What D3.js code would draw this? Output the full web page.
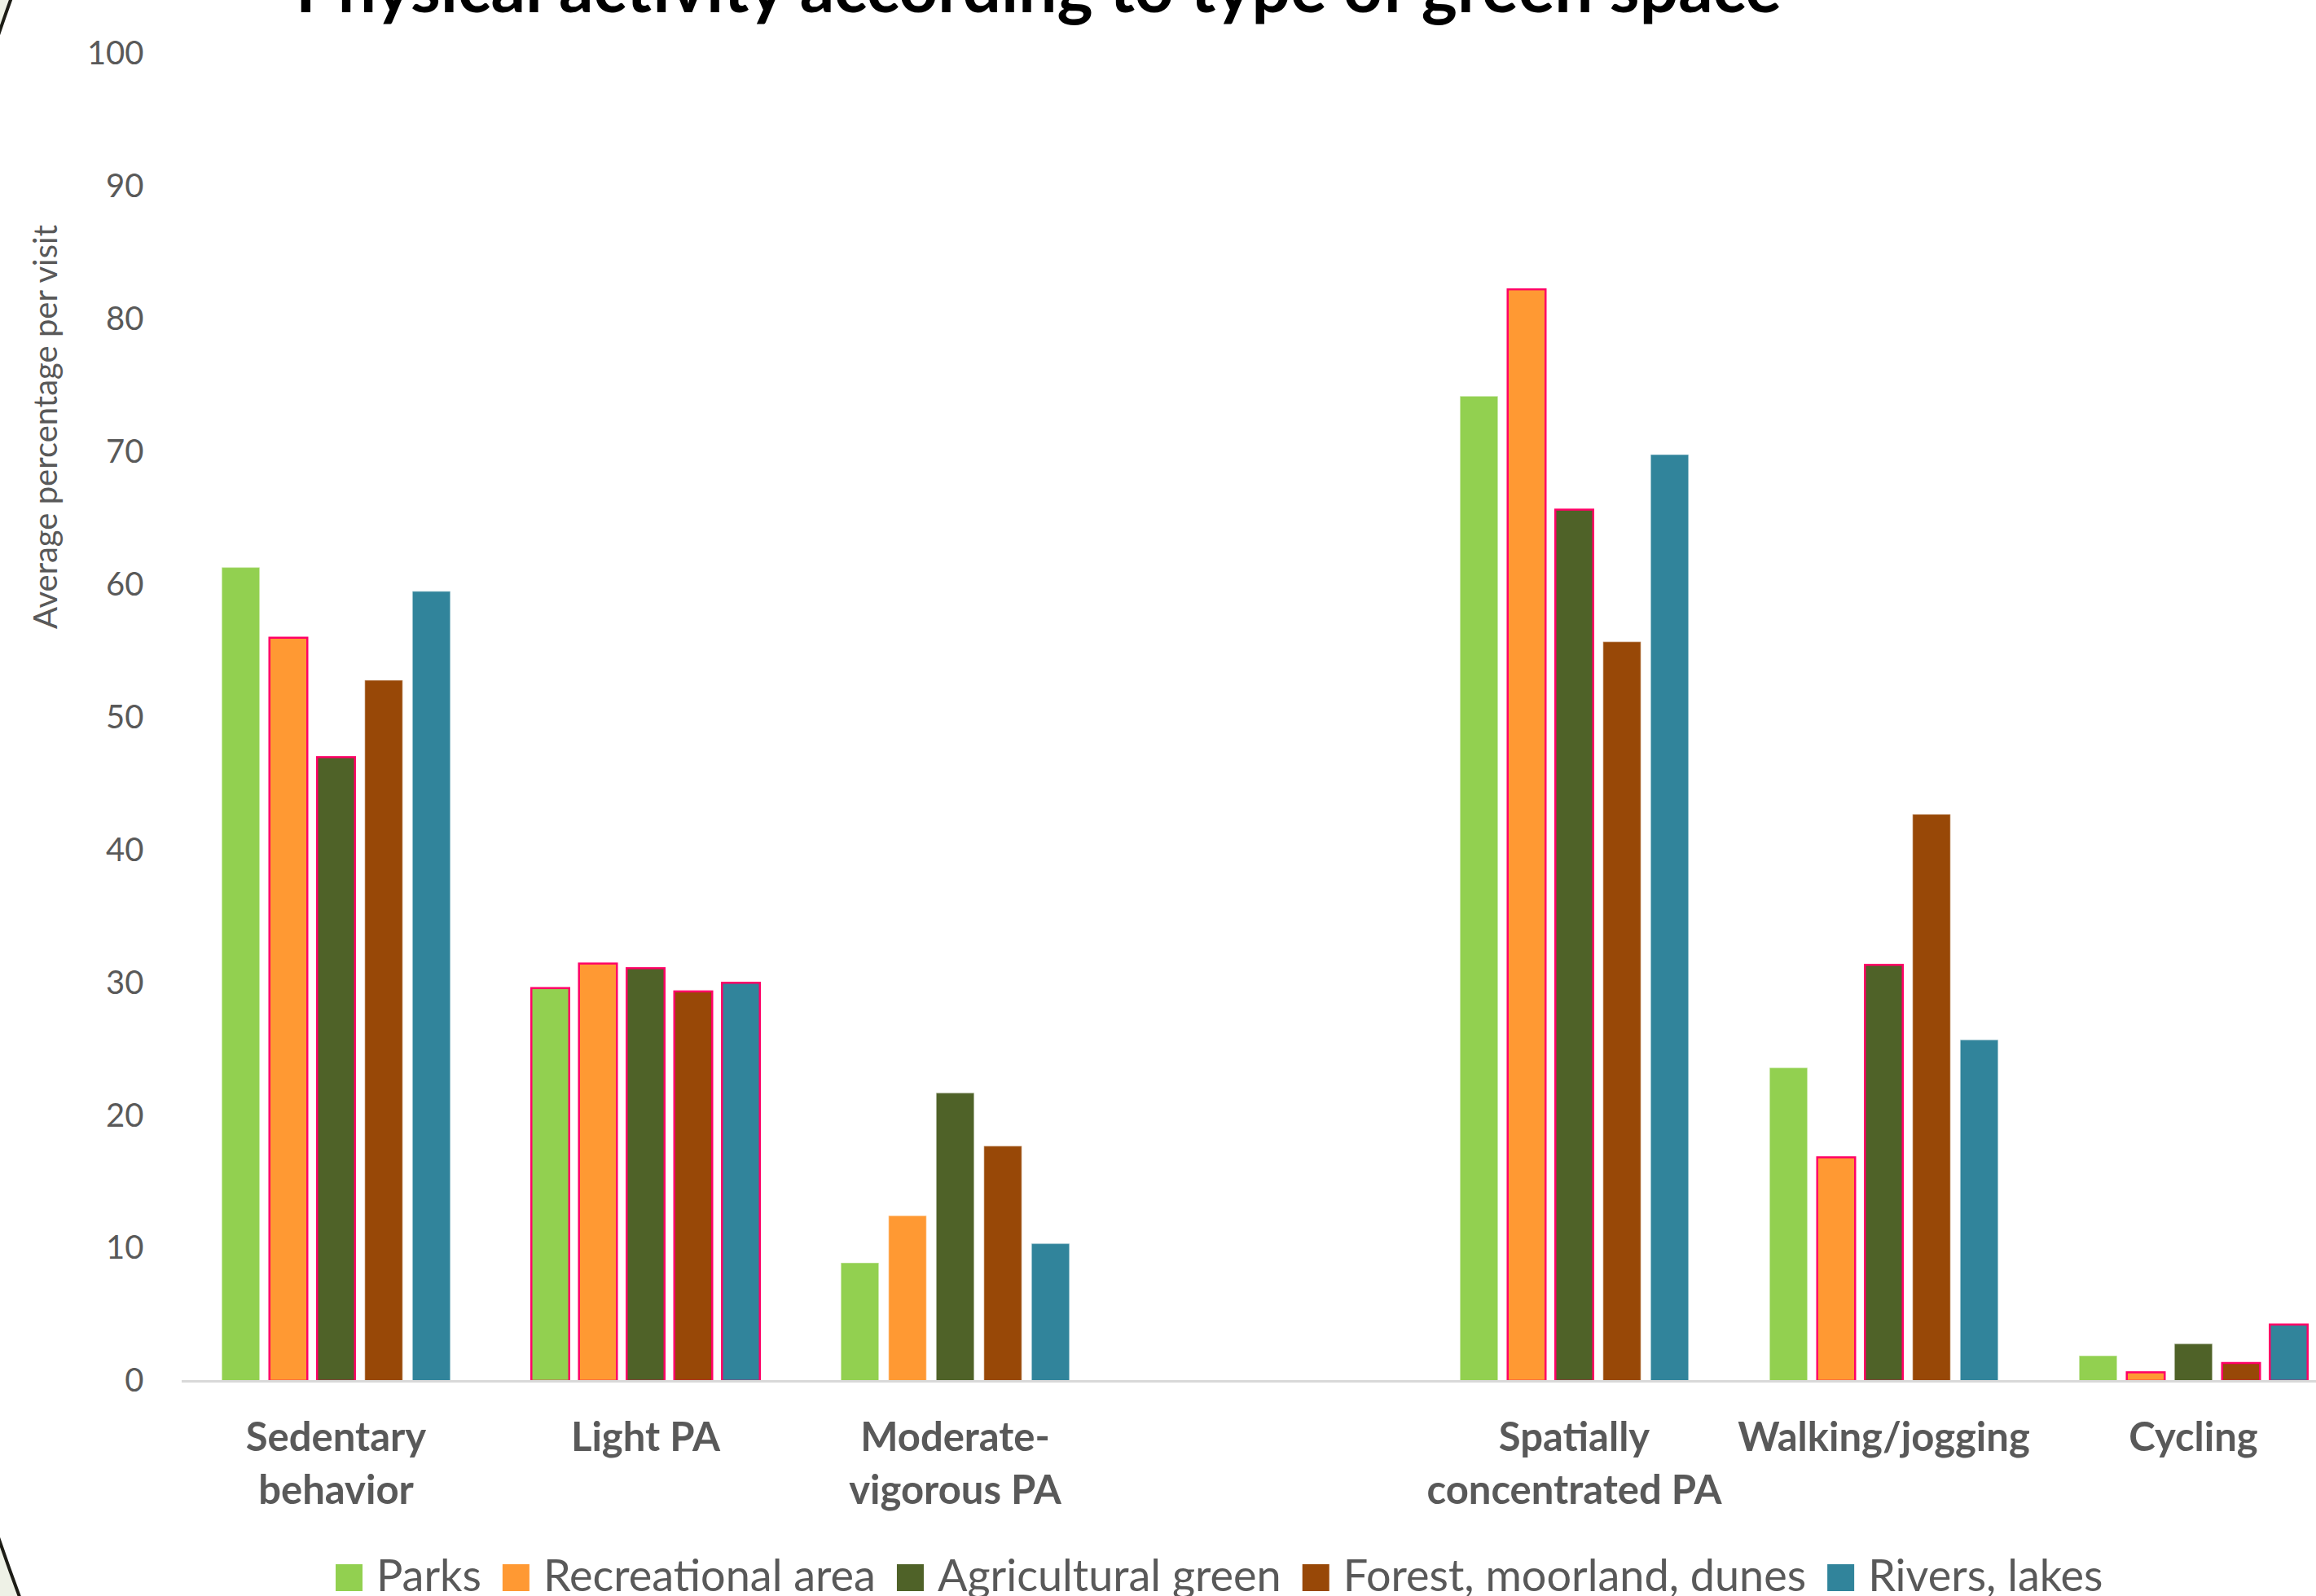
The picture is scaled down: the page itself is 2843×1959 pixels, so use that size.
<!DOCTYPE html>
<html>
<head>
<meta charset="utf-8">
<script src="https://cdn.jsdelivr.net/npm/d3@7"></script>
<style>
  html, body { margin: 0; padding: 0; background: #ffffff; }
  svg { display: block; }
  text { font-family: Lato, "Open Sans", "Noto Sans", sans-serif; }
</style>
</head>
<body>
<svg id="chart" width="2843" height="1959"></svg>
<script>
// Activity categories (the empty entry keeps a blank slot between the two blocks)
const categories = ["Sedentary behavior", "Light PA", "Moderate-vigorous PA", "",
                    "Spatially concentrated PA", "Walking/jogging", "Cycling"];
const categoryLines = [["Sedentary", "behavior"], ["Light PA"], ["Moderate-", "vigorous PA"], [],
                       ["Spatially", "concentrated PA"], ["Walking/jogging"], ["Cycling"]];

// Green-space types
const seriesNames = ["Parks", "Recreational area", "Agricultural green", "Forest, moorland, dunes", "Rivers, lakes"];

// Average percentage per visit, one value per category
const parks        = [61.3, 29.6,  8.9, null, 74.2, 23.6, 1.9];
const recreational = [56.0, 31.45, 12.45, null, 82.25, 16.85, 0.65];
const agricultural = [47.0, 31.1, 21.7, null, 65.65, 31.35, 2.8];
const forest       = [52.8, 29.35, 17.7, null, 55.7, 42.7, 1.35];
const rivers       = [59.5, 30.0, 10.35, null, 69.8, 25.7, 4.25];

// Bars singled out with an outline
const parksMarked        = [false, true, false, false, false, false, false];
const recreationalMarked = [true,  true, false, false, true,  true,  true];
const agriculturalMarked = [true,  true, false, false, true,  true,  false];
const forestMarked       = [false, true, false, false, false, false, true];
const riversMarked       = [false, true, false, false, false, false, true];

const yTicks = [0, 10, 20, 30, 40, 50, 60, 70, 80, 90, 100];

const seriesValues = [parks, recreational, agricultural, forest, rivers];
const seriesMarked = [parksMarked, recreationalMarked, agriculturalMarked, forestMarked, riversMarked];
const colors = ["#92D050", "#FF9933", "#4F6228", "#984807", "#31849B"];

const W = 2843, H = 1959;
const svg = d3.select("#chart");

// Backdrop: pale page with a large white rounded panel
svg.append("rect").attr("width", W).attr("height", H).attr("fill", "#eef1e6");
svg.append("circle")
  .attr("cx", 2700).attr("cy", 965).attr("r", 2855)
  .attr("fill", "#ffffff").attr("stroke", "#1d1d16").attr("stroke-width", 4);

const plot = { left: 222.5, right: 2882.5, top: 66, bottom: 1695 };

const x = d3.scaleBand().domain(categories).range([plot.left, plot.right]).padding(0);
const xs = d3.scaleBand().domain(seriesNames).range([0, x.bandwidth()])
  .paddingInner(0.205).paddingOuter(0.85);
const y = d3.scaleLinear().domain([0, 100]).range([plot.bottom, plot.top]);
const color = d3.scaleOrdinal().domain(seriesNames).range(colors);

// Y axis (labels only)
const yAxis = svg.append("g")
  .attr("transform", `translate(${plot.left},0)`)
  .call(d3.axisLeft(y).tickValues(yTicks).tickSize(0).tickPadding(46));
yAxis.select(".domain").remove();
yAxis.selectAll("text")
  .attr("fill", "#595959")
  .style("font-size", "40px")
  .style("font-family", "Lato, 'Open Sans', sans-serif");

// Y axis title
svg.append("text")
  .attr("transform", "translate(70,524) rotate(-90)")
  .attr("text-anchor", "middle")
  .attr("fill", "#595959")
  .style("font-size", "40px")
  .text("Average percentage per visit");

// Bars
const barData = [];
categories.forEach((c, ci) => {
  seriesNames.forEach((s, si) => {
    const v = seriesValues[si][ci];
    if (v !== null) barData.push({ c, s, v, marked: seriesMarked[si][ci] });
  });
});

svg.append("g").selectAll("rect")
  .data(barData)
  .join("rect")
  .attr("x", d => x(d.c) + xs(d.s))
  .attr("y", d => y(d.v))
  .attr("width", xs.bandwidth())
  .attr("height", d => y(0) - y(d.v))
  .attr("fill", d => color(d.s))
  .attr("stroke", d => d.marked ? "#FF0066" : "#ffffff")
  .attr("stroke-opacity", d => d.marked ? 1 : 0.35)
  .attr("stroke-width", d => d.marked ? 2.5 : 1.5);

// X axis
const xAxis = svg.append("g")
  .attr("transform", `translate(0,${plot.bottom})`)
  .call(d3.axisBottom(x).tickSize(0).tickSizeOuter(0));
xAxis.select(".domain")
  .attr("stroke", "#d9d9d9")
  .attr("stroke-width", 3);
xAxis.selectAll(".tick text").each(function (d) {
  const t = d3.select(this);
  const lines = categoryLines[categories.indexOf(d)];
  t.text(null).attr("y", null).attr("dy", null)
    .attr("fill", "#595959")
    .style("font-size", "49px")
    .style("font-weight", "bold")
    .style("font-family", "Lato, 'Open Sans', sans-serif");
  lines.forEach((ln, i) => {
    t.append("tspan").attr("x", 0).attr("y", 86 + i * 65).text(ln);
  });
});

// Title
const title = svg.append("text")
  .attr("x", 1275).attr("y", 15)
  .attr("text-anchor", "middle")
  .attr("fill", "#000000")
  .style("font-weight", "bold")
  .style("font-size", "72px")
  .text("Physical activity according to type of green space");
const tw = title.node().getComputedTextLength();
title.style("font-size", (72 * 1824 / tw).toFixed(1) + "px");

// Legend
const legend = svg.append("g");
let lx = 412;
seriesNames.forEach((s, i) => {
  legend.append("rect")
    .attr("x", lx).attr("y", 1920).attr("width", 33).attr("height", 33)
    .attr("fill", color(s));
  const t = legend.append("text")
    .attr("x", lx + 50).attr("y", 1953)
    .attr("fill", "#595959")
    .style("font-size", "54px")
    .text(s);
  lx += 50 + t.node().getComputedTextLength() + 26;
});
</script>
</body>
</html>
